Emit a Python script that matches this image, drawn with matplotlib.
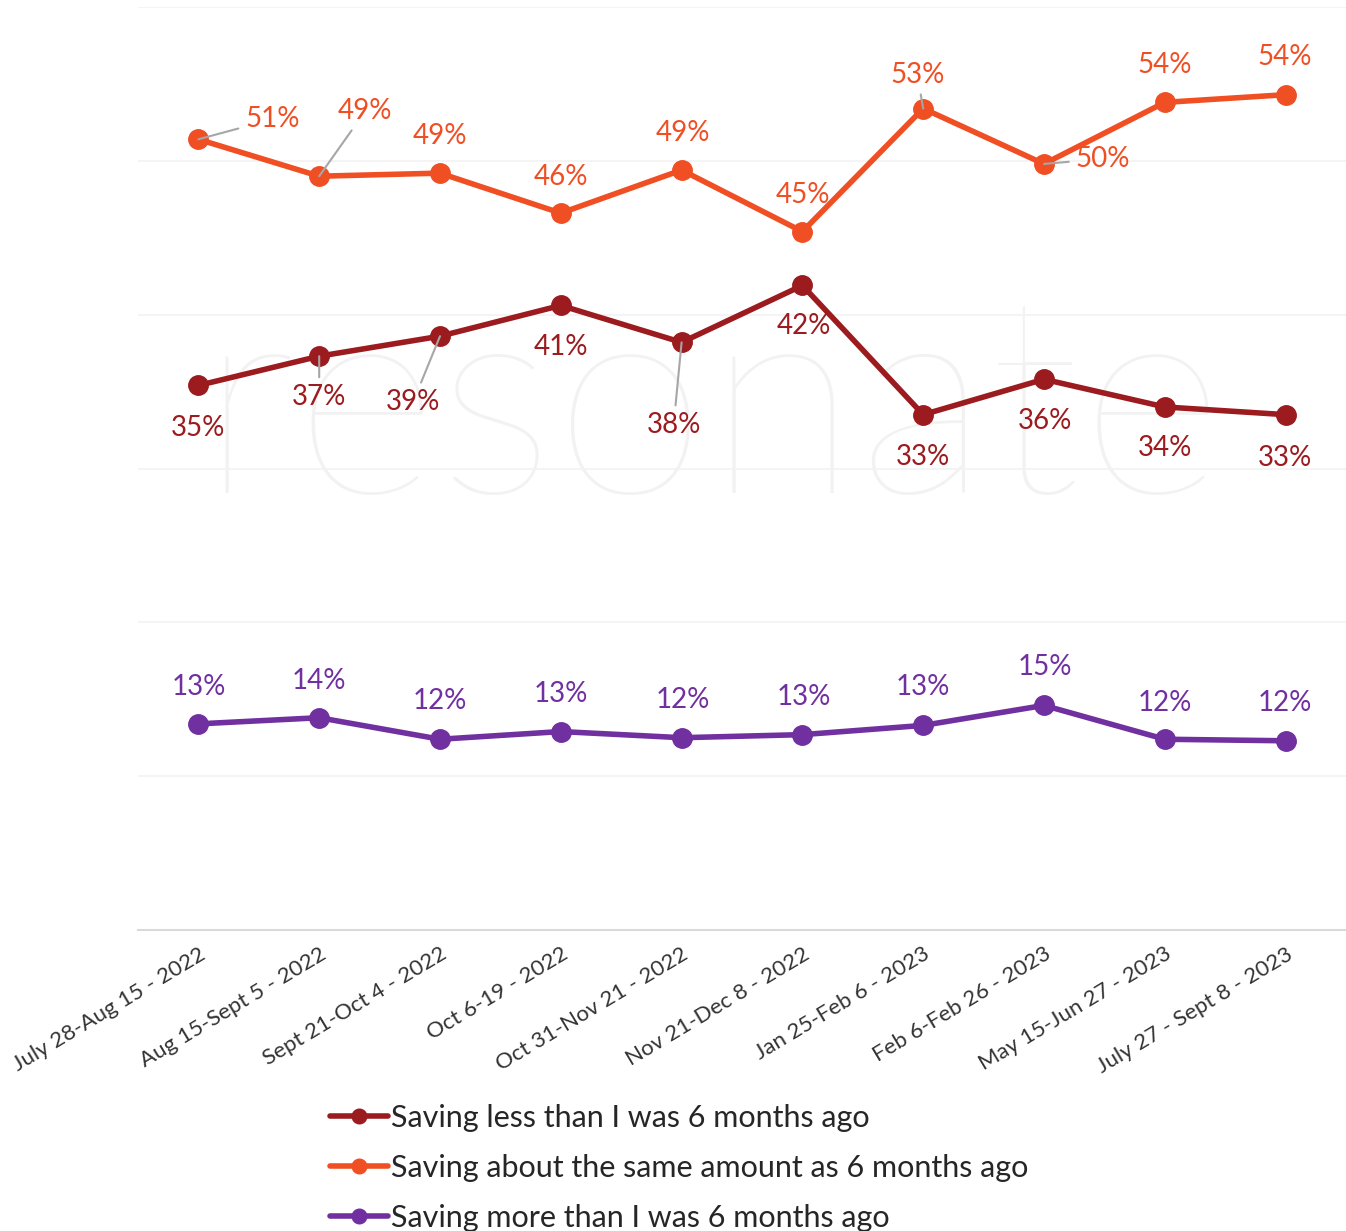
import numpy as np
import matplotlib
matplotlib.use('Agg')
import matplotlib.pyplot as plt

# DATA
periods = ['July 28-Aug 15 - 2022', 'Aug 15-Sept 5 - 2022', 'Sept 21-Oct 4 - 2022',
           'Oct 6-19 - 2022', 'Oct 31-Nov 21 - 2022', 'Nov 21-Dec 8 - 2022',
           'Jan 25-Feb 6 - 2023', 'Feb 6-Feb 26 - 2023', 'May 15-Jun 27 - 2023',
           'July 27 - Sept 8 - 2023']
saving_less = [35.4, 37.3, 38.6, 40.6, 38.2, 41.9, 33.5, 35.8, 34.0, 33.5]
saving_same = [51.4, 49.0, 49.2, 46.6, 49.4, 45.4, 53.4, 49.8, 53.8, 54.3]
saving_more = [13.4, 13.8, 12.4, 12.9, 12.5, 12.7, 13.3, 14.6, 12.4, 12.3]
labels_less = ['35%', '37%', '39%', '41%', '38%', '42%', '33%', '36%', '34%', '33%']
labels_same = ['51%', '49%', '49%', '46%', '49%', '45%', '53%', '50%', '54%', '54%']
labels_more = ['13%', '14%', '12%', '13%', '12%', '13%', '13%', '15%', '12%', '12%']
series_names = ['Saving less than I was 6 months ago',
                'Saving about the same amount as 6 months ago',
                'Saving more than I was 6 months ago']

# label offsets (pixels) and leader line flags
off_same = [(74, 20), (46, 65), (0, 37), (0, 36), (1, 37), (1, 37), (-6, 34), (59, 5), (0, 37), (-1, 38)]
lead_same = [1, 1, 0, 0, 0, 0, 1, 1, 0, 0]
off_less = [(0, -43), (0, -41), (-27, -66), (0, -42), (-8, -83), (1, -41), (0, -42), (1, -42), (0, -41), (-1, -43)]
lead_less = [0, 1, 1, 0, 1, 0, 0, 0, 0, 0]
off_more = [(0, 37), (0, 37), (0, 38), (0, 38), (1, 38), (1, 38), (0, 38), (1, 38), (0, 36), (-1, 38)]
lead_more = [0] * 10

c_less = '#9b1b1f'
c_same = '#f04e23'
c_more = '#7030a0'

plt.rcParams['font.family'] = ['Lato', 'DejaVu Sans']

fig = plt.figure(figsize=(13.46, 12.31), dpi=100)
ax = fig.add_axes([138 / 1346, 1 - 930 / 1231, 1 - 138 / 1346, (930 - 7) / 1231])
x = np.arange(len(periods))

# watermark
ax.text(0.475, 0.555, 'resonate', transform=ax.transAxes, ha='center', va='center',
        fontsize=200, fontweight='light', color='#f2f2f2', zorder=0)

lines = []
for vals, col, name in [(saving_less, c_less, series_names[0]),
                        (saving_same, c_same, series_names[1]),
                        (saving_more, c_more, series_names[2])]:
    l, = ax.plot(x, vals, color=col, lw=4, marker='o', ms=14, label=name, zorder=3,
                 solid_capstyle='round')
    lines.append(l)

for vals, labs, offs, leads, col in [(saving_same, labels_same, off_same, lead_same, c_same),
                                     (saving_less, labels_less, off_less, lead_less, c_less),
                                     (saving_more, labels_more, off_more, lead_more, c_more)]:
    for i in range(len(vals)):
        ap = None
        if leads[i]:
            ap = dict(arrowstyle='-', color='#a6a6a6', lw=1.5, shrinkA=3, shrinkB=0)
        ax.annotate(labs[i], (x[i], vals[i]), xytext=offs[i], textcoords='offset pixels',
                    ha='center', va='center', fontsize=20, color=col, arrowprops=ap, zorder=4)

ax.set_xlim(-0.5, len(periods) - 0.5)
ax.set_ylim(0, 60)
ax.set_yticks(np.arange(0, 61, 10))
ax.yaxis.grid(True, color='#f2f2f2', lw=1.2)
ax.set_axisbelow(True)
ax.tick_params(axis='y', left=False, labelleft=False)
ax.tick_params(axis='x', length=0, pad=10)
for s in ['top', 'right', 'left']:
    ax.spines[s].set_visible(False)
ax.spines['bottom'].set_color('#d9d9d9')
ax.spines['bottom'].set_linewidth(1.5)
ax.set_xticks(x)
ax.set_xticklabels(periods, rotation=31, ha='right', rotation_mode='anchor',
                   fontsize=16, color='#333333')

fig.legend(handles=lines, loc='upper left', bbox_to_anchor=(330 / 1346, 1 - 1104 / 1231),
           frameon=False, handlelength=1.9, handletextpad=0.1,
           labelspacing=0.72, borderaxespad=0, borderpad=0, markerscale=0.75,
           labelcolor='#262626', prop={'size': 22})

fig.savefig('out.png', dpi=100)
